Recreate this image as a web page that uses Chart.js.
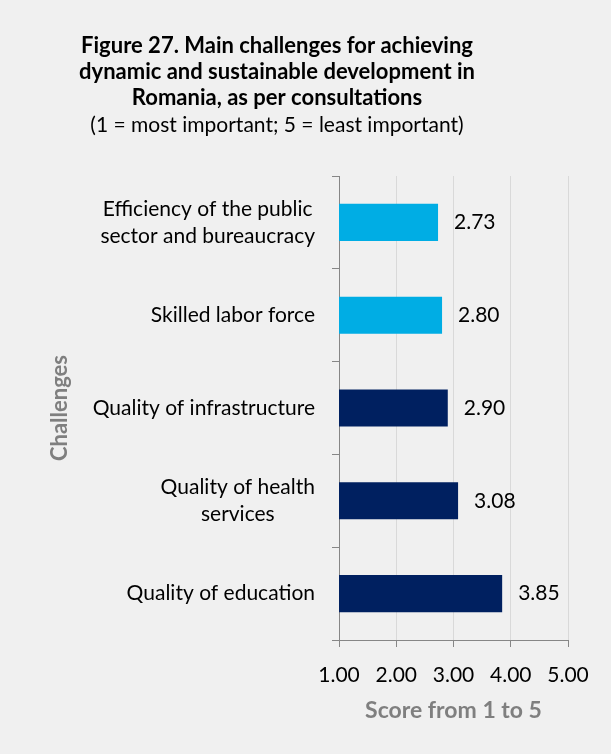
<!DOCTYPE html>
<html>
<head>
<meta charset="utf-8">
<script src="https://cdn.jsdelivr.net/npm/chart.js@4/dist/chart.umd.min.js"></script>
<style>
  html, body { margin: 0; padding: 0; background: #f0f0f0; }
  #wrap { position: relative; width: 611px; height: 754px; }
</style>
</head>
<body>
<div id="wrap"><canvas id="challengesChart"></canvas></div>
<script>
const FONT = 'Lato, "Open Sans", sans-serif';

const titleLines = [
    'Figure 27. Main challenges for achieving',
    'dynamic and sustainable development in',
    'Romania, as per consultations'
];
const subtitleLine = '(1 = most important; 5 = least important)';

const challenges = [
    ['Efficiency of the public', 'sector and bureaucracy'],
    ['Skilled labor force'],
    ['Quality of infrastructure'],
    ['Quality of health', 'services'],
    ['Quality of education']
];
const scores = [2.73, 2.80, 2.90, 3.08, 3.85];
const barColors = ['#00ade4', '#00ade4', '#002060', '#002060', '#002060'];
const scoreTicks = [1, 2, 3, 4, 5];

// heading drawn above the plot
const headingPlugin = {
    id: 'heading',
    afterDraw(chart) {
        const ctx = chart.ctx;
        ctx.save();
        ctx.fillStyle = '#000';
        ctx.textAlign = 'center';
        ctx.textBaseline = 'middle';
        ctx.font = 'bold 22px ' + FONT;
        titleLines.forEach((t, i) => ctx.fillText(t, 277, 46 + i * 26));
        ctx.font = '21px ' + FONT;
        ctx.fillText(subtitleLine, 277, 125);
        ctx.restore();
    }
};

// category names: each block right-aligned, its lines centred on each other
const categoryLabelPlugin = {
    id: 'categoryLabels',
    afterDraw(chart) {
        const ctx = chart.ctx;
        const y = chart.scales.y;
        const right = y.right - 24;
        const lh = 27;
        ctx.save();
        ctx.font = '21px ' + FONT;
        ctx.fillStyle = '#000';
        ctx.textAlign = 'center';
        ctx.textBaseline = 'middle';
        challenges.forEach((lines, i) => {
            const w = Math.max(...lines.map(l => ctx.measureText(l).width));
            const cx = right - w / 2;
            const yc = y.getPixelForValue(i);
            const y0 = yc - (lines.length - 1) * lh / 2;
            lines.forEach((l, j) => ctx.fillText(l, cx, y0 + j * lh));
        });
        ctx.restore();
    }
};

// value labels to the right of each bar
const valueLabelPlugin = {
    id: 'valueLabels',
    afterDatasetsDraw(chart) {
        const ctx = chart.ctx;
        const meta = chart.getDatasetMeta(0);
        ctx.save();
        ctx.font = '21px ' + FONT;
        ctx.fillStyle = '#000';
        ctx.textAlign = 'left';
        ctx.textBaseline = 'middle';
        meta.data.forEach((bar, i) => {
            ctx.fillText(scores[i].toFixed(2), bar.x + 16, bar.y);
        });
        ctx.restore();
    }
};

new Chart(document.getElementById('challengesChart'), {
    type: 'bar',
    data: {
        labels: challenges,
        datasets: [{
            data: scores,
            backgroundColor: barColors,
            borderWidth: 0,
            categoryPercentage: 1,
            barPercentage: 0.4
        }]
    },
    options: {
        indexAxis: 'y',
        responsive: true,
        maintainAspectRatio: false,
        animation: false,
        events: [],
        layout: { padding: { top: 176, right: 43, left: 0, bottom: 0 } },
        plugins: {
            legend: { display: false },
            tooltip: { enabled: false },
            title: { display: false }
        },
        scales: {
            x: {
                min: 1,
                max: 5,
                afterFit: s => { s.height = 114; },
                afterBuildTicks: s => { s.ticks = scoreTicks.map(v => ({ value: v })); },
                ticks: {
                    callback: v => Number(v).toFixed(2),
                    font: { family: FONT, size: 21 },
                    color: '#000',
                    padding: 16,
                    maxRotation: 0
                },
                grid: { color: '#d9d9d9', tickColor: '#868686', tickLength: 7 },
                border: { color: '#868686' },
                title: {
                    display: true,
                    text: 'Score from 1 to 5',
                    color: '#7f7f7f',
                    font: { family: FONT, size: 23, weight: 'bold' },
                    padding: { top: 0, bottom: 30 }
                }
            },
            y: {
                afterFit: s => { s.width = 339; },
                ticks: { display: false },
                grid: { drawOnChartArea: false, tickColor: '#868686', tickLength: 7, offset: true },
                border: { color: '#868686' },
                title: {
                    display: true,
                    text: 'Challenges',
                    color: '#7f7f7f',
                    font: { family: FONT, size: 22, weight: 'bold' },
                    padding: { top: 47, bottom: 0 }
                }
            }
        }
    },
    plugins: [headingPlugin, categoryLabelPlugin, valueLabelPlugin]
});
</script>
</body>
</html>
